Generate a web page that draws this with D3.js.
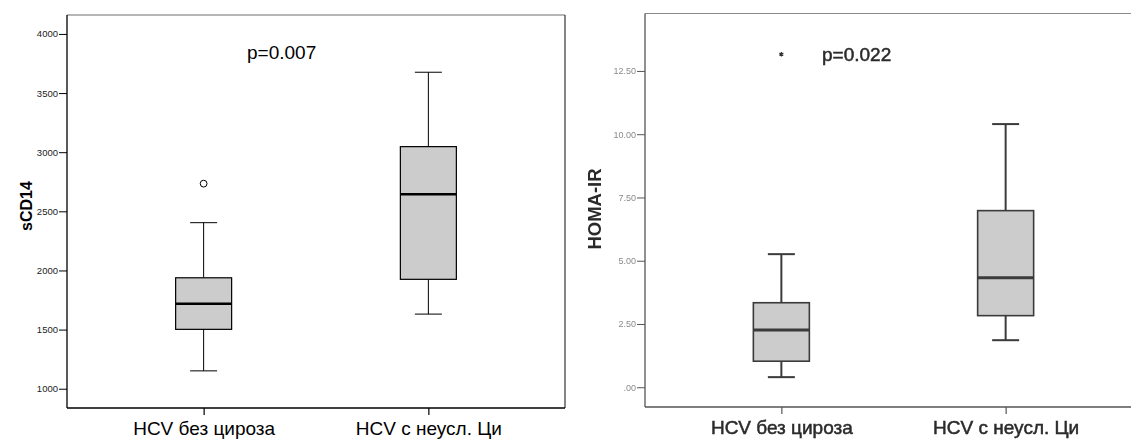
<!DOCTYPE html>
<html>
<head>
<meta charset="utf-8">
<script src="https://cdn.jsdelivr.net/npm/d3@7"></script>
<style>
  html, body { margin: 0; padding: 0; background: #fff; }
  svg { display: block; font-family: "Liberation Sans", Arial, sans-serif; }
</style>
</head>
<body>
<svg id="chart" width="1131" height="439"></svg>
<script>
// Groups shared by both panels
const categories = ["HCV без цироза", "HCV с неусл. Ци"];

// sCD14 box statistics per group
const sCD14Low = [1151, 1631];
const sCD14Q1 = [1502, 1925];
const sCD14Median = [1718, 2644];
const sCD14Q3 = [1938, 3047];
const sCD14High = [2404, 3676];
const sCD14Outliers = [[0, 2734]];           // [group index, value]
const sCD14Ticks = [1000, 1500, 2000, 2500, 3000, 3500, 4000];

// HOMA-IR box statistics per group
const homaLow = [0.40, 1.86];
const homaQ1 = [1.03, 2.83];
const homaMedian = [2.26, 4.33];
const homaQ3 = [3.34, 6.98];
const homaHigh = [5.26, 10.40];
const homaExtremes = [[0, 13.16]];           // [group index, value]
const homaTicks = [0, 2.5, 5, 7.5, 10, 12.5];

const svg = d3.select("#chart");
const defs = svg.append("defs");
defs.append("filter").attr("id", "soft")
  .attr("x", "-5%").attr("y", "-5%").attr("width", "110%").attr("height", "110%")
  .append("feGaussianBlur").attr("stdDeviation", 0.65);

function buildStats(low, q1, med, q3, high) {
  return categories.map((c, i) => ({ cat: c, low: low[i], q1: q1[i], med: med[i], q3: q3[i], high: high[i] }));
}

function panel(opts) {
  const g = svg.append("g");
  if (opts.filter) g.attr("filter", opts.filter);
  const { x0, x1, y0, y1 } = opts.frame;

  const y = d3.scaleLinear().domain(opts.domain).range([y1, y0]);
  const x = d3.scalePoint().domain(categories).range([x0, x1]).padding(0.608);

  // plot frame
  g.append("line").attr("x1", x0).attr("x2", x1).attr("y1", y0).attr("y2", y0)
    .attr("stroke", opts.frameTop).attr("stroke-width", 1.2);
  g.append("line").attr("x1", x1).attr("x2", x1).attr("y1", y0).attr("y2", y1)
    .attr("stroke", opts.frameRight).attr("stroke-width", 1.2);

  // y axis
  const yAxis = d3.axisLeft(y).tickValues(opts.ticks).tickSize(8).tickPadding(1)
    .tickFormat(opts.tickFormat);
  const ya = g.append("g").attr("transform", `translate(${x0},0)`).call(yAxis);
  ya.select(".domain").remove();
  ya.selectAll(".tick line").attr("stroke", opts.axisColor).attr("stroke-width", 1);
  ya.selectAll(".tick text").attr("fill", opts.tickColor)
    .style("font-size", opts.tickFont + "px").style("font-family", "'Liberation Sans', Arial, sans-serif");
  g.append("line").attr("x1", x0).attr("x2", x0).attr("y1", y0).attr("y2", y1)
    .attr("stroke", opts.axisColor).attr("stroke-width", 1.3);

  // x axis
  const xAxis = d3.axisBottom(x).tickSize(7).tickPadding(6);
  const xa = g.append("g").attr("transform", `translate(0,${y1})`).call(xAxis);
  xa.select(".domain").remove();
  xa.selectAll(".tick line").attr("stroke", opts.axisColor).attr("stroke-width", 1.2);
  xa.selectAll(".tick text").attr("fill", opts.labelColor).attr("y", 0).attr("dy", 0)
    .attr("transform", "translate(0,27)")
    .attr("stroke", opts.textStroke ? opts.labelColor : null)
    .attr("stroke-width", opts.textStroke || null)
    .style("font-size", "19px").style("font-family", "'Liberation Sans', Arial, sans-serif");
  g.append("line").attr("x1", x0).attr("x2", x1).attr("y1", y1).attr("y2", y1)
    .attr("stroke", opts.axisColor).attr("stroke-width", 1.3);

  // y axis title
  g.append("text")
    .attr("transform", `translate(${opts.titleX},${opts.titleY}) rotate(-90)`)
    .attr("text-anchor", "middle")
    .attr("fill", opts.labelColor)
    .style("font-weight", "bold").style("font-size", opts.titleFont + "px")
    .text(opts.title);

  // boxes
  const stats = opts.stats;
  const bw = 56, cw = 27;
  const box = g.selectAll("g.box").data(stats).join("g").attr("class", "box");
  box.append("line")
    .attr("x1", d => x(d.cat)).attr("x2", d => x(d.cat))
    .attr("y1", d => y(d.high)).attr("y2", d => y(d.q3))
    .attr("stroke", opts.markColor).attr("stroke-width", opts.whiskerW);
  box.append("line")
    .attr("x1", d => x(d.cat)).attr("x2", d => x(d.cat))
    .attr("y1", d => y(d.q1)).attr("y2", d => y(d.low))
    .attr("stroke", opts.markColor).attr("stroke-width", opts.whiskerW);
  box.append("line")
    .attr("x1", d => x(d.cat) - cw / 2).attr("x2", d => x(d.cat) + cw / 2)
    .attr("y1", d => y(d.high)).attr("y2", d => y(d.high))
    .attr("stroke", opts.markColor).attr("stroke-width", opts.whiskerW);
  box.append("line")
    .attr("x1", d => x(d.cat) - cw / 2).attr("x2", d => x(d.cat) + cw / 2)
    .attr("y1", d => y(d.low)).attr("y2", d => y(d.low))
    .attr("stroke", opts.markColor).attr("stroke-width", opts.whiskerW);
  box.append("rect")
    .attr("x", d => x(d.cat) - bw / 2).attr("width", bw)
    .attr("y", d => y(d.q3)).attr("height", d => y(d.q1) - y(d.q3))
    .attr("fill", "#cccccc").attr("stroke", opts.markColor).attr("stroke-width", opts.boxW);
  box.append("line")
    .attr("x1", d => x(d.cat) - bw / 2).attr("x2", d => x(d.cat) + bw / 2)
    .attr("y1", d => y(d.med)).attr("y2", d => y(d.med))
    .attr("stroke", opts.medianColor).attr("stroke-width", opts.medianW);

  // outlying points
  opts.drawPoints(g, x, y);

  // p-value note
  g.append("text")
    .attr("x", opts.pX).attr("y", opts.pY)
    .attr("fill", opts.labelColor)
    .attr("stroke", opts.textStroke ? opts.labelColor : null)
    .attr("stroke-width", opts.textStroke || null)
    .style("font-size", "19px")
    .text(opts.pText);
}

// sCD14 panel
panel({
  frame: { x0: 67, x1: 565, y0: 15, y1: 408 },
  domain: [837, 4160],
  ticks: sCD14Ticks,
  tickFormat: d3.format("d"),
  tickFont: 9.5,
  tickColor: "#222",
  axisColor: "#000",
  frameTop: "#6f6f6f",
  frameRight: "#333",
  labelColor: "#000",
  markColor: "#000",
  medianColor: "#000",
  whiskerW: 1, boxW: 1.2, medianW: 2.6,
  title: "sCD14", titleX: 32, titleY: 206, titleFont: 16,
  stats: buildStats(sCD14Low, sCD14Q1, sCD14Median, sCD14Q3, sCD14High),
  pText: "p=0.007", pX: 247, pY: 59,
  drawPoints: (g, x, y) => {
    g.selectAll("circle.out").data(sCD14Outliers).join("circle").attr("class", "out")
      .attr("cx", d => x(categories[d[0]])).attr("cy", d => y(d[1])).attr("r", 3.4)
      .attr("fill", "none").attr("stroke", "#000").attr("stroke-width", 1);
  }
});

// HOMA-IR panel
panel({
  filter: "url(#soft)",
  frame: { x0: 645, x1: 1142, y0: 13.5, y1: 407 },
  domain: [-0.78, 14.77],
  ticks: homaTicks,
  tickFormat: d => d === 0 ? ".00" : d.toFixed(2),
  tickFont: 9,
  tickColor: "#8a8a8a",
  axisColor: "#555",
  frameTop: "#8a8a8a",
  frameRight: "#8a8a8a",
  labelColor: "#2a2a2a",
  textStroke: 0.5,
  markColor: "#3a3a3a",
  medianColor: "#3a3a3a",
  whiskerW: 2, boxW: 1.6, medianW: 3,
  title: "HOMA-IR", titleX: 601, titleY: 209, titleFont: 18.5,
  stats: buildStats(homaLow, homaQ1, homaMedian, homaQ3, homaHigh),
  pText: "p=0.022", pX: 822, pY: 61,
  drawPoints: (g, x, y) => {
    g.selectAll("path.ext").data(homaExtremes).join("path").attr("class", "ext")
      .attr("transform", d => `translate(${x(categories[d[0]])},${y(d[1])})`)
      .attr("d", d3.symbol(d3.symbolAsterisk, 14))
      .attr("fill", "none").attr("stroke", "#333").attr("stroke-width", 1.2);
  }
});
</script>
</body>
</html>
